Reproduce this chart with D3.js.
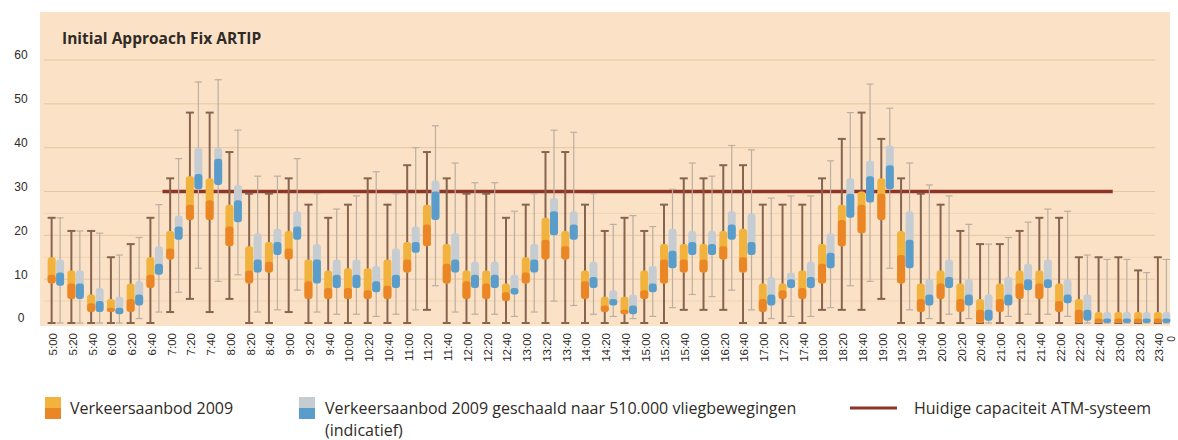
<!DOCTYPE html>
<html>
<head>
<meta charset="utf-8">
<script src="https://cdn.jsdelivr.net/npm/d3@7"></script>
<style>
  body { margin: 0; background: #fff; }
  svg { display: block; font-family: "Open Sans", "Noto Sans", sans-serif; }
</style>
</head>
<body>
<div id="chart"></div>
<script>
// Time slots (20 min) and tick values
const slots = ["5:00","5:20","5:40","6:00","6:20","6:40","7:00","7:20","7:40","8:00",
  "8:20","8:40","9:00","9:20","9:40","10:00","10:20","10:40","11:00","11:20",
  "11:40","12:00","12:20","12:40","13:00","13:20","13:40","14:00","14:20","14:40",
  "15:00","15:20","15:40","16:00","16:20","16:40","17:00","17:20","17:40","18:00",
  "18:20","18:40","19:00","19:20","19:40","20:00","20:20","20:40","21:00","21:20",
  "21:40","22:00","22:20","22:40","23:00","23:20","23:40"];
const yTicks = [0, 10, 20, 30, 40, 50, 60];
const minorTicks = [5, 15, 25];

// Verkeersaanbod 2009 (min, q1, median, q3, max)
const o2009Min = [0,0,0,0,0, 0,2.5,5.5,2.5,5.5, 0,0,2.5,0,0, 0,0,0,0,3, 0,0,0,0,0, 0,0,0,0,0,
  0,0,3,3,3, 0,0,0,0,3, 3,3,5.5,0,0, 0,0,0,0,0, 0,0,0,0,0, 0,0];
const o2009Q1 = [9,5.5,2.5,2.5,2.5, 8,14.5,23.5,23.5,17.5, 9,11.5,14.5,5.5,5.5, 5.5,5.5,5.5,11.5,17.5,
  9,5.5,5.5,5,9, 14.5,14.5,5.5,2.5,2, 5.5,9,11.5,11.5,14.5, 11.5,2.5,5.5,5.5,9,
  17.5,20.5,23.5,9,2.5, 5.5,2.5,0,2.5,5.5, 5.5,2.5,0,0,0, 0,0];
const o2009Med = [11,9,4.5,3.5,5.5, 11,17,27,28,22, 12,14,17,9.5,8, 8,7.5,8.5,14.5,22.5,
  13.5,9.5,9,7,11.5, 19,17.5,9.5,4,3, 7.5,14.5,14.5,14.5,17.5, 15,5.5,7.5,8,13.5,
  23.5,27,29.5,15.5,5.5, 9,5.5,3,5.5,9, 9,5,3,1,1, 1,1];
const o2009Q3 = [15,12,6.5,5.5,9, 15,21,33.5,33,27, 17.5,18.5,21,14.5,12, 12.5,12.5,14.5,18.5,27,
  18,12,12,9,15, 24,21,12,6,6, 12,18,18,18,21, 21.5,9,9,12,18,
  27,30,33,21,9, 12,9,5.5,9,12, 12,9,5.5,2.5,2.5, 2.5,2.5];
const o2009Max = [24,21,21,15,18, 24,33,48,48,39, 29.5,29.5,33,27,24, 27,33,27,36,39,
  33,29.5,29.5,24,27, 39,39,27,21,24, 21,27,33,33,36, 36,27,27,27,33,
  42,48,42,33,29.5, 27,21,18,18,21, 24,24,15,15,15, 12,15];

// Verkeersaanbod 2009 geschaald naar 510.000 vliegbewegingen
const scaledMin = [0,0,0,0,1, 2.5,7,12.5,9.5,11, 2.5,3,7.5,2.5,2, 2,1.5,2,3,8.5,
  2.5,2,2,1.5,2.5, 5,4,2,1.5,1, 1.5,3.5,6.5,6,7.5, 3,1,1.5,1.5,3.5,
  8.5,9.5,12.5,3,1, 2,1,0,1.5,2, 2,1.5,0,0,0, 0,0];
const scaledQ1 = [8.5,5.5,2.5,2,4, 11,19,30.5,31.5,23, 11.5,15.5,19,9,8, 8,7,8,16,23.5,
  11.5,8,8,6.5,11.5, 20,19,8,4,2, 7,12.5,15.5,15.5,19, 15.5,4,8,8,12.5,
  24,27.5,30.5,12.5,4, 8,4,0.5,4,7.5, 8,4.5,0.5,0,0, 0,0];
const scaledMed = [11.5,9,5,3.5,6.5, 13.5,22,34,37.5,28, 14.5,18.5,22,14.5,11, 11,9.5,11,18.5,30,
  14.5,11,11,8,14.5, 25.5,22.5,10.5,5.5,4, 9,16.5,18.5,18,22.5, 18.5,6.5,10,10.5,16,
  29.5,33.5,36,19,6.5, 10.5,6.5,3,6.5,10, 10,6.5,3,1,1, 1,1];
const scaledQ3 = [14.5,12,8,6,9.5, 17.5,24.5,40,40,31.5, 20.5,21.5,25.5,18,14.5, 14.5,13,17,22,32.5,
  20.5,14,14,11,18, 28.5,25.5,14,7.5,6.5, 13,21.5,21,21,25.5, 25,10.5,11.5,14,20.5,
  33,37,40.5,25.5,10, 14.5,10,6.5,10.5,13.5, 14.5,10,6.5,2.5,2.5, 2.5,2.5];
const scaledMax = [24,21,20.5,15.5,19.5, 27,37.5,55,55.5,44, 33.5,33.5,37.5,29.5,26, 29,34.5,29.5,40,45,
  36.5,32,32,25.5,29.5, 44,43.5,29.5,22.5,24.5, 22,30.5,36.5,33.5,40.5, 39.5,28.5,29,29,37,
  48,54.5,49,36.5,31.5, 29,22.5,18,19.5,23, 26,25.5,15.5,14.5,14.5, 11.5,14.5];

// Huidige capaciteit ATM-systeem
const capacityValue = 30;
const capacityRange = ["7:00", "23:00"];

const width = 1178, height = 440;

const colors = {
    bg: '#fbe2c6',
    grid: '#e4c6a2',
    gridMinor: '#efd4b5',
    orangeDark: '#eb8627',
    orangeLight: '#f2b33e',
    orangeWhisker: '#866450',
    blueDark: '#5a9dcb',
    blueLight: '#c6cdd2',
    blueWhisker: '#bbaea2',
    capacity: '#8e3526',
    text: '#2f2a26'
};

const svg = d3.select('#chart').append('svg')
    .attr('width', width)
    .attr('height', height);

const x = d3.scaleBand().domain(slots).range([46, 1172]).padding(0);
const y = d3.scaleLinear().domain([0, 60]).range([323, 60]);
const bw = x.bandwidth();

// Plot background
svg.append('rect')
    .attr('x', 40).attr('y', 12)
    .attr('width', 1130).attr('height', 314)
    .attr('fill', colors.bg);

// Gridlines
svg.append('g').selectAll('line.minor')
    .data(minorTicks)
    .enter().append('line')
    .attr('x1', 44).attr('x2', 1155)
    .attr('y1', d => y(d)).attr('y2', d => y(d))
    .attr('stroke', colors.gridMinor).attr('stroke-width', 1);

svg.append('g').selectAll('line.major')
    .data(yTicks.filter(d => d > 0))
    .enter().append('line')
    .attr('x1', 44).attr('x2', 1155)
    .attr('y1', d => y(d)).attr('y2', d => y(d))
    .attr('stroke', colors.grid).attr('stroke-width', 1);

// Title
svg.append('text')
    .attr('x', 62).attr('y', 44)
    .attr('font-size', '15.5px')
    .attr('font-weight', 'bold')
    .attr('fill', colors.text)
    .text('Initial Approach Fix ARTIP');

// Capacity line (drawn under the boxes)
svg.append('line')
    .attr('x1', x(capacityRange[0]) - 2)
    .attr('x2', x(capacityRange[1]))
    .attr('y1', y(capacityValue)).attr('y2', y(capacityValue))
    .attr('stroke', colors.capacity)
    .attr('stroke-width', 3.5);

// Build box rows
const series = [
    { key: 'o2009', off: -4.25, min: o2009Min, q1: o2009Q1, med: o2009Med, q3: o2009Q3, max: o2009Max,
      dark: colors.orangeDark, light: colors.orangeLight, whisker: colors.orangeWhisker, ww: 2, cap: 8 },
    { key: 'scaled', off: 4.25, min: scaledMin, q1: scaledQ1, med: scaledMed, q3: scaledQ3, max: scaledMax,
      dark: colors.blueDark, light: colors.blueLight, whisker: colors.blueWhisker, ww: 1.2, cap: 7 }
];

const rows = [];
series.forEach(s => {
    slots.forEach((t, i) => {
        rows.push({
            slot: t, s: s,
            cx: x(t) + bw / 2 + s.off,
            min: s.min[i], q1: s.q1[i], med: s.med[i], q3: s.q3[i], max: s.max[i]
        });
    });
});

const boxW = 8;

// Whiskers
const wg = svg.append('g');
rows.forEach(d => {
    wg.append('line')
        .attr('x1', d.cx).attr('x2', d.cx)
        .attr('y1', y(d.min)).attr('y2', y(d.max))
        .attr('stroke', d.s.whisker).attr('stroke-width', d.s.ww);
    [d.min, d.max].forEach(v => {
        wg.append('line')
            .attr('x1', d.cx - d.s.cap / 2).attr('x2', d.cx + d.s.cap / 2)
            .attr('y1', y(v)).attr('y2', y(v))
            .attr('stroke', d.s.whisker).attr('stroke-width', d.s.ww);
    });
});

// Boxes: light part median..q3, dark part q1..median
const bg = svg.append('g');
bg.selectAll('rect.upper')
    .data(rows)
    .enter().append('rect')
    .attr('class', 'upper')
    .attr('x', d => d.cx - boxW / 2)
    .attr('y', d => y(d.q3))
    .attr('width', boxW)
    .attr('height', d => Math.max(1, y(d.q1) - y(d.q3)))
    .attr('rx', 3)
    .attr('fill', d => d.s.light);

bg.selectAll('rect.lower')
    .data(rows)
    .enter().append('rect')
    .attr('class', 'lower')
    .attr('x', d => d.cx - boxW / 2)
    .attr('y', d => y(d.med))
    .attr('width', boxW)
    .attr('height', d => Math.max(0, y(d.q1) - y(d.med)))
    .attr('rx', 3)
    .attr('fill', d => d.s.dark);

// Y axis labels
const yAxis = svg.append('g')
    .attr('transform', 'translate(21,0)')
    .call(d3.axisLeft(y).tickValues(yTicks).tickSize(0).tickPadding(0));
yAxis.select('.domain').remove();
yAxis.selectAll('text')
    .attr('text-anchor', 'middle')
    .attr('x', 0)
    .attr('y', -5)
    .attr('font-size', '12px')
    .attr('font-family', null)
    .attr('fill', colors.text);

// X axis labels (rotated)
const xAxis = svg.append('g')
    .attr('transform', 'translate(0,333)')
    .call(d3.axisBottom(x).tickSize(0));
xAxis.select('.domain').remove();
xAxis.selectAll('text')
    .attr('transform', 'rotate(-90)')
    .attr('x', 0).attr('y', 0)
    .attr('dy', '0.1em')
    .attr('text-anchor', 'end')
    .attr('font-size', '11.5px')
    .attr('font-family', null)
    .attr('fill', colors.text);

svg.append('text')
    .attr('transform', 'translate(1175,336) rotate(-90)')
    .attr('text-anchor', 'end')
    .attr('font-size', '10px')
    .attr('fill', colors.text)
    .text('0');

// Legend
const lg = svg.append('g').attr('font-size', '16px').attr('fill', colors.text);

lg.append('rect').attr('x', 45).attr('y', 397).attr('width', 16).attr('height', 11).attr('fill', colors.orangeLight);
lg.append('rect').attr('x', 45).attr('y', 408).attr('width', 16).attr('height', 11).attr('fill', colors.orangeDark);
lg.append('text').attr('x', 70).attr('y', 414).text('Verkeersaanbod 2009');

lg.append('rect').attr('x', 299).attr('y', 397).attr('width', 16).attr('height', 11).attr('fill', colors.blueLight);
lg.append('rect').attr('x', 299).attr('y', 408).attr('width', 16).attr('height', 11).attr('fill', colors.blueDark);
lg.append('text').attr('x', 325).attr('y', 414).text('Verkeersaanbod 2009 geschaald naar 510.000 vliegbewegingen');
lg.append('text').attr('x', 325).attr('y', 436).text('(indicatief)');

lg.append('line').attr('x1', 850).attr('x2', 897).attr('y1', 408).attr('y2', 408)
    .attr('stroke', colors.capacity).attr('stroke-width', 3);
lg.append('text').attr('x', 914).attr('y', 414).text('Huidige capaciteit ATM-systeem');
</script>
</body>
</html>
